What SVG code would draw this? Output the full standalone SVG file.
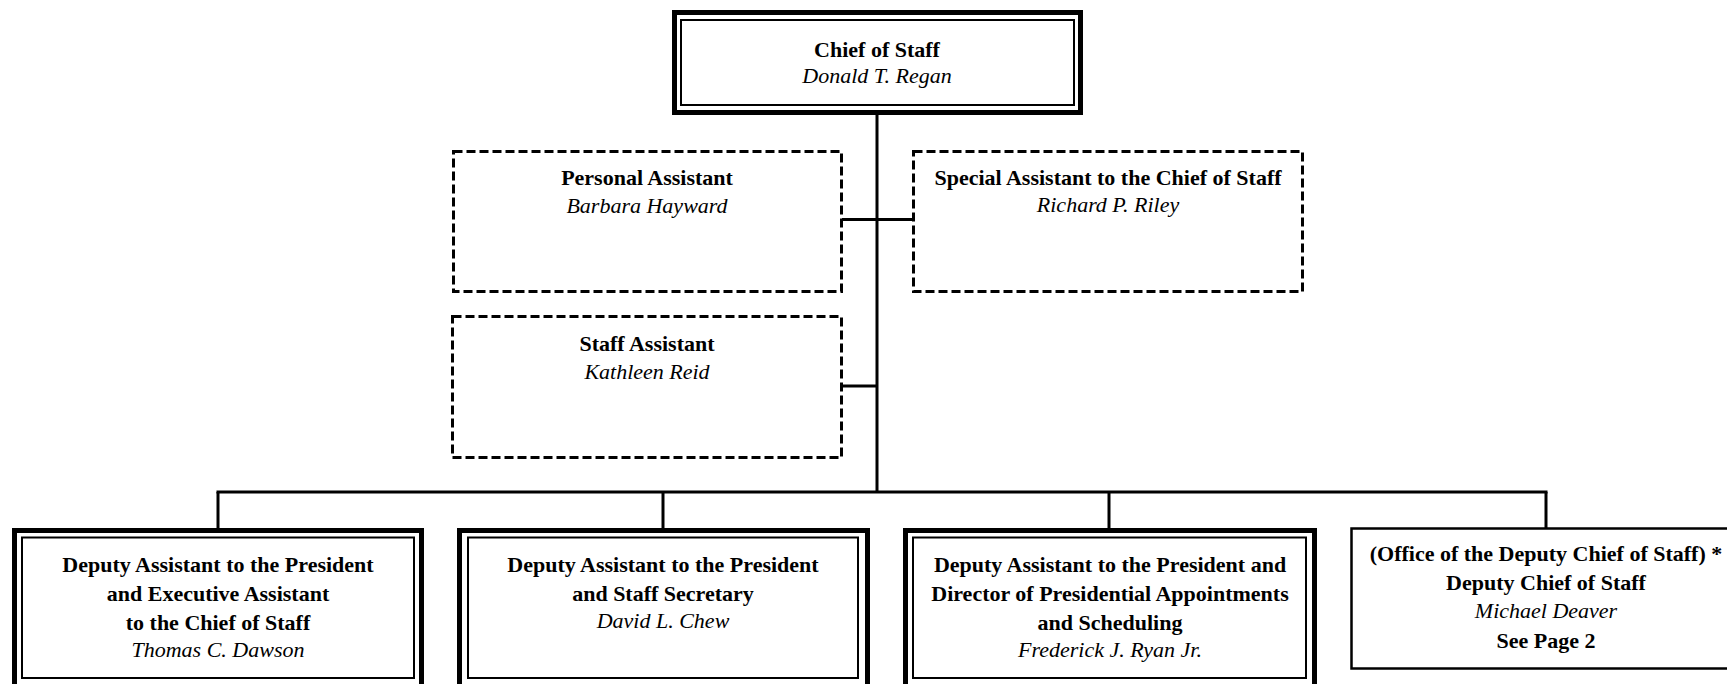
<svg xmlns="http://www.w3.org/2000/svg" width="1727" height="684" viewBox="0 0 1727 684">
<style>
.b{font-family:"Liberation Serif","Times New Roman",serif;font-weight:bold;font-size:22px;fill:#000;text-anchor:middle}
.i{font-family:"Liberation Serif","Times New Roman",serif;font-style:italic;font-size:22px;fill:#000;text-anchor:middle}
.thick{fill:none;stroke:#000;stroke-width:5}
.thin{fill:none;stroke:#000;stroke-width:2}
.dash{fill:none;stroke:#000;stroke-width:3;stroke-dasharray:9,4}
.single{fill:none;stroke:#000;stroke-width:2.5}
.ln{fill:none;stroke:#000;stroke-width:3}
</style>
<rect width="1727" height="684" fill="#fff"/>
<g id="connectors">
<line class="ln" x1="877" y1="113" x2="877" y2="493"/>
<line class="ln" x1="842" y1="219.5" x2="912" y2="219.5"/>
<line class="ln" x1="842" y1="386" x2="877" y2="386"/>
<line class="ln" x1="216.5" y1="492" x2="1547.5" y2="492"/>
<line class="ln" x1="218" y1="492" x2="218" y2="529"/>
<line class="ln" x1="663" y1="492" x2="663" y2="529"/>
<line class="ln" x1="1109" y1="492" x2="1109" y2="529"/>
<line class="ln" x1="1546" y1="492" x2="1546" y2="529"/>
</g>
<g id="chief">
<rect class="thick" x="674.5" y="12.5" width="406" height="100" fill="#fff"/>
<rect class="thin" x="681" y="20" width="393" height="85"/>
<text class="b" x="877" y="57">Chief of Staff</text>
<text class="i" x="877" y="83">Donald T. Regan</text>
</g>
<g id="personal">
<rect class="dash" x="453.5" y="151.5" width="388" height="140"/>
<text class="b" x="647" y="185">Personal Assistant</text>
<text class="i" x="647" y="213">Barbara Hayward</text>
</g>
<g id="special">
<rect class="dash" x="913.5" y="151.5" width="389" height="140"/>
<text class="b" x="1108" y="185">Special Assistant to the Chief of Staff</text>
<text class="i" x="1108" y="212">Richard P. Riley</text>
</g>
<g id="staff">
<rect class="dash" x="452.5" y="316.5" width="389" height="141"/>
<text class="b" x="647" y="351">Staff Assistant</text>
<text class="i" x="647" y="379">Kathleen Reid</text>
</g>
<g id="dawson">
<rect class="thick" x="14.5" y="530.5" width="407" height="170" fill="#fff"/>
<rect class="thin" x="22" y="537.5" width="392" height="140.5"/>
<text class="b" x="218" y="572">Deputy Assistant to the President</text>
<text class="b" x="218" y="601">and Executive Assistant</text>
<text class="b" x="218" y="630">to the Chief of Staff</text>
<text class="i" x="218" y="657">Thomas C. Dawson</text>
</g>
<g id="chew">
<rect class="thick" x="459.5" y="530.5" width="408" height="170" fill="#fff"/>
<rect class="thin" x="468" y="537.5" width="390" height="140.5"/>
<text class="b" x="663" y="572">Deputy Assistant to the President</text>
<text class="b" x="663" y="601">and Staff Secretary</text>
<text class="i" x="663" y="628">David L. Chew</text>
</g>
<g id="ryan">
<rect class="thick" x="905.5" y="530.5" width="409" height="170" fill="#fff"/>
<rect class="thin" x="913" y="537.5" width="393" height="140.5"/>
<text class="b" x="1110" y="572">Deputy Assistant to the President and</text>
<text class="b" x="1110" y="601">Director of Presidential Appointments</text>
<text class="b" x="1110" y="630">and Scheduling</text>
<text class="i" x="1110" y="657">Frederick J. Ryan Jr.</text>
</g>
<g id="deaver">
<rect class="single" x="1351.5" y="528.5" width="400" height="140" fill="#fff"/>
<text class="b" x="1546" y="561">(Office of the Deputy Chief of Staff) *</text>
<text class="b" x="1546" y="590">Deputy Chief of Staff</text>
<text class="i" x="1546" y="618">Michael Deaver</text>
<text class="b" x="1546" y="648">See Page 2</text>
</g>
</svg>
